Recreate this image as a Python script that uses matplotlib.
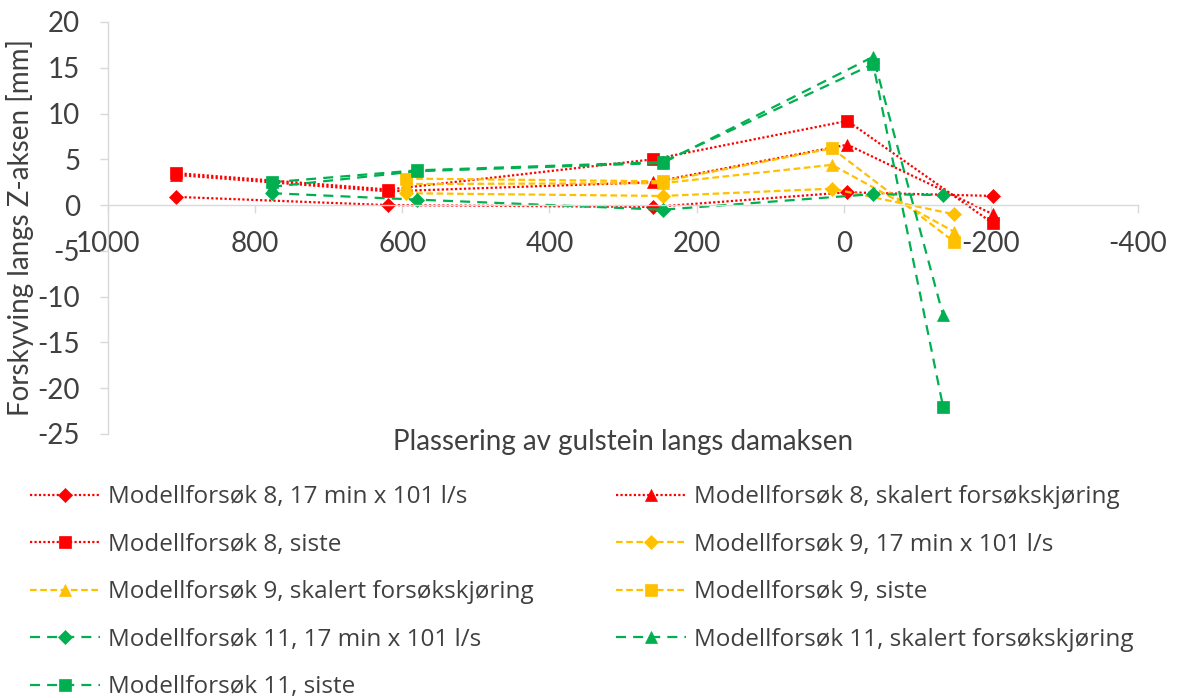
import matplotlib
matplotlib.use("Agg")
import matplotlib.pyplot as plt

plt.rcParams['font.family'] = ['Lato', 'DejaVu Sans']

# --- data ---
x8 = [908, 619, 259, -5, -203]
y8_17min = [0.9, 0.0, -0.2, 1.4, 1.0]
y8_skalert = [3.3, 1.5, 2.5, 6.6, -1.0]
y8_siste = [3.5, 1.7, 5.0, 9.2, -2.0]

x9 = [595, 246, 16, -150]
y9_17min = [1.3, 1.0, 1.8, -1.0]
y9_skalert = [2.3, 2.4, 4.4, -2.9]
y9_siste = [2.9, 2.6, 6.2, -4.0]

x11 = [777, 580, 246, -40, -135]
y11_17min = [1.3, 0.6, -0.5, 1.2, 1.1]
y11_skalert = [2.0, 3.7, 4.6, 16.2, -12.0]
y11_siste = [2.5, 3.8, 4.7, 15.4, -22.0]

labels = [
    "Modellforsøk 8, 17 min x 101 l/s",
    "Modellforsøk 8, skalert forsøkskjøring",
    "Modellforsøk 8, siste",
    "Modellforsøk 9, 17 min x 101 l/s",
    "Modellforsøk 9, skalert forsøkskjøring",
    "Modellforsøk 9, siste",
    "Modellforsøk 11, 17 min x 101 l/s",
    "Modellforsøk 11, skalert forsøkskjøring",
    "Modellforsøk 11, siste",
]
x_ticks = [1000, 800, 600, 400, 200, 0, -200, -400]
y_ticks = [20, 15, 10, 5, 0, -5, -10, -15, -20, -25]

RED = "#FF0000"
ORANGE = "#FFC000"
GREEN = "#00B050"
dot = (0, (1, 1))
dash9 = (0, (3, 1.6))
dash11 = (0, (4.5, 3.2))

series = [
    (x8, y8_17min, RED, dot, 'D', 7),
    (x8, y8_skalert, RED, dot, '^', 9),
    (x8, y8_siste, RED, dot, 's', 9),
    (x9, y9_17min, ORANGE, dash9, 'D', 7),
    (x9, y9_skalert, ORANGE, dash9, '^', 9),
    (x9, y9_siste, ORANGE, dash9, 's', 9),
    (x11, y11_17min, GREEN, dash11, 'D', 7),
    (x11, y11_skalert, GREEN, dash11, '^', 9),
    (x11, y11_siste, GREEN, dash11, 's', 9),
]

TXT = '#404040'
W, H = 1184, 698
fig = plt.figure(figsize=(W / 100, H / 100), dpi=100)
ax = fig.add_axes([108 / W, (H - 434) / H, 1030 / W, 412 / H])

handles = []
for (xs, ys, c, ls, m, ms), lab in zip(series, labels):
    h, = ax.plot(xs, ys, color=c, linestyle=ls, linewidth=1.6, marker=m,
                 markersize=ms, markerfacecolor=c, markeredgecolor=c,
                 markeredgewidth=0.5, label=lab)
    handles.append(h)

ax.set_xlim(1000, -400)
ax.set_ylim(-25, 20)
ax.set_xticks(x_ticks)
ax.set_yticks(y_ticks)
ax.set_xticklabels([str(v) for v in x_ticks])
ax.set_yticklabels([str(v) for v in y_ticks])

for s in ['top', 'right']:
    ax.spines[s].set_visible(False)
ax.spines['bottom'].set_position(('data', 0))
for s in ['left', 'bottom']:
    ax.spines[s].set_color('#D9D9D9')
    ax.spines[s].set_linewidth(1.0)
ax.tick_params(axis='both', colors='#D9D9D9', labelcolor=TXT,
               labelsize=20, length=6, width=1.0, direction='out')
ax.tick_params(axis='x', pad=13)
ax.tick_params(axis='y', pad=14)

ax.set_xlabel("Plassering av gulstein langs damaksen", fontsize=20, color=TXT)
ax.xaxis.set_label_coords(0.5, 0.012)
ax.set_ylabel("Forskyving langs Z-aksen [mm]", fontsize=20, color=TXT)
ax.yaxis.set_label_coords(-0.072, 0.5)

order = [0, 2, 4, 6, 8, 1, 3, 5, 7]
leg = fig.legend([handles[i] for i in order], [labels[i] for i in order],
                 ncol=2, loc='upper left', bbox_to_anchor=(18 / W, 1 - 473 / H),
                 frameon=False, handlelength=2.88,
                 prop={'family': ['Open Sans', 'DejaVu Sans'], 'size': 17.5},
                 handletextpad=0.33, columnspacing=3.4, labelspacing=0.97,
                 borderpad=0, labelcolor=TXT)

fig.savefig("out.png", dpi=100, facecolor='white')
